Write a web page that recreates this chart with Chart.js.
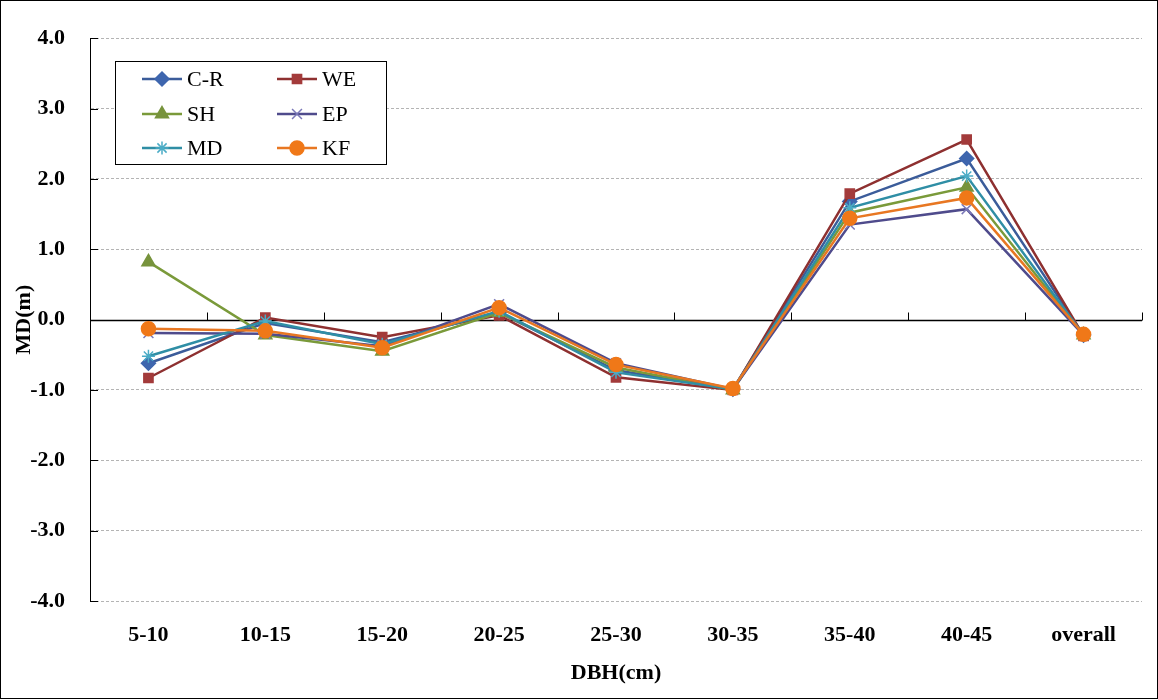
<!DOCTYPE html>
<html>
<head>
<meta charset="utf-8">
<script src="https://cdn.jsdelivr.net/npm/chart.js@4.4.1/dist/chart.umd.min.js"></script>
<style>
  html, body { margin: 0; padding: 0; background: #fff; }
  #wrap { width: 1158px; height: 700px; position: relative; }
</style>
</head>
<body>
<div id="wrap"><canvas id="chart" width="1158" height="700"></canvas></div>
<script>
const categories = ['5-10', '10-15', '15-20', '20-25', '25-30', '30-35', '35-40', '40-45', 'overall'];
const seriesNames = ['C-R', 'WE', 'SH', 'EP', 'MD', 'KF'];
const crValues = [-0.62, -0.05, -0.32, 0.10, -0.72, -0.99, 1.68, 2.29, -0.22];
const weValues = [-0.83, 0.03, -0.25, 0.06, -0.82, -1.00, 1.79, 2.56, -0.23];
const shValues = [0.82, -0.22, -0.45, 0.10, -0.68, -1.00, 1.52, 1.88, -0.22];
const epValues = [-0.19, -0.20, -0.38, 0.22, -0.62, -0.99, 1.35, 1.57, -0.22];
const mdValues = [-0.52, -0.02, -0.35, 0.12, -0.75, -0.99, 1.59, 2.04, -0.22];
const kfValues = [-0.13, -0.16, -0.40, 0.17, -0.64, -0.98, 1.44, 1.73, -0.21];

const FONT = "'Liberation Serif', 'Times New Roman', serif";

const styles = [
  { line: '#3B5C9A', fill: '#3E66AE', point: 'rectRot', r: 7 },
  { line: '#8E3030', fill: '#A33B3B', point: 'rect', r: 6.5 },
  { line: '#7A9A3A', fill: '#77933C', point: 'triangle', r: 7.5 },
  { line: '#4F4B8C', fill: '#7A78B8', point: 'crossRot', r: 7 },
  { line: '#2F8EA5', fill: '#4BACC6', point: 'star', r: 6.5 },
  { line: '#E87722', fill: '#F07818', point: 'circle', r: 7 }
];
const allValues = [crValues, weValues, shValues, epValues, mdValues, kfValues];

const datasets = seriesNames.map((name, i) => ({
  label: name,
  data: allValues[i],
  borderColor: styles[i].line,
  backgroundColor: styles[i].fill,
  pointBorderColor: styles[i].fill,
  pointBackgroundColor: styles[i].fill,
  pointStyle: styles[i].point,
  pointRadius: styles[i].r,
  pointBorderWidth: 1.5,
  borderWidth: 2.5,
  tension: 0,
  order: seriesNames.length - i
}));

// zero axis, inner ticks, legend box and frame
const decor = {
  id: 'decor',
  beforeDraw(chart) {
    const ctx = chart.ctx;
    ctx.save();
    ctx.fillStyle = '#fff';
    ctx.fillRect(0, 0, chart.width, chart.height);
    ctx.restore();
  },
  beforeDatasetsDraw(chart) {
    const { ctx, chartArea, scales } = chart;
    const y0 = Math.round(scales.y.getPixelForValue(0)) + 0.5;
    ctx.save();
    ctx.strokeStyle = '#000';
    ctx.lineWidth = 1.5;
    ctx.beginPath();
    ctx.moveTo(chartArea.left, y0);
    ctx.lineTo(chartArea.right, y0);
    ctx.stroke();
    ctx.lineWidth = 1;
    const n = categories.length;
    const step = (chartArea.right - chartArea.left) / n;
    for (let i = 1; i <= n; i++) {
      const x = Math.round(chartArea.left + step * i) + 0.5;
      ctx.beginPath();
      ctx.moveTo(x, y0);
      ctx.lineTo(x, y0 - 8);
      ctx.stroke();
    }
    scales.y.ticks.forEach(t => {
      const yy = Math.round(scales.y.getPixelForValue(t.value)) + 0.5;
      ctx.beginPath();
      ctx.moveTo(chartArea.left, yy);
      ctx.lineTo(chartArea.left + 8, yy);
      ctx.stroke();
    });
    ctx.restore();
  },
  afterDraw(chart) {
    const ctx = chart.ctx;
    ctx.save();
    // legend
    const bx = 115.5, by = 61.5, bw = 271, bh = 103;
    ctx.fillStyle = '#fff';
    ctx.fillRect(bx, by, bw, bh);
    ctx.strokeStyle = '#000';
    ctx.lineWidth = 1;
    ctx.strokeRect(bx, by, bw, bh);
    const cols = [142, 277];
    const rows = [79, 114, 148];
    ctx.font = '22px ' + FONT;
    ctx.textBaseline = 'middle';
    seriesNames.forEach((name, i) => {
      const x = cols[i % 2];
      const y = rows[Math.floor(i / 2)];
      const s = styles[i];
      ctx.strokeStyle = s.line;
      ctx.lineWidth = 2.5;
      ctx.beginPath();
      ctx.moveTo(x, y);
      ctx.lineTo(x + 40, y);
      ctx.stroke();
      ctx.fillStyle = s.fill;
      ctx.strokeStyle = s.fill;
      ctx.lineWidth = 1.5;
      Chart.helpers.drawPoint(ctx, { pointStyle: s.point, radius: s.r, borderWidth: 1.5, rotation: 0 }, x + 20, y);
      ctx.fillStyle = '#000';
      ctx.fillText(name, x + 45, y + 1);
    });
    // outer frame
    ctx.strokeStyle = '#000';
    ctx.lineWidth = 1;
    ctx.strokeRect(0.5, 0.5, chart.width - 1, chart.height - 2);
    ctx.restore();
  }
};

new Chart(document.getElementById('chart'), {
  type: 'line',
  data: { labels: categories, datasets: datasets },
  options: {
    responsive: false,
    animation: false,
    layout: { padding: { left: 0, top: 37, right: 16, bottom: 0 } },
    plugins: {
      legend: { display: false },
      tooltip: { enabled: false }
    },
    scales: {
      x: {
        offset: true,
        grid: { display: false, offset: true },
        border: { display: false },
        ticks: { color: '#000', padding: 13, font: { family: FONT, size: 22, weight: 'bold' }, maxRotation: 0 },
        title: { display: true, text: 'DBH(cm)', color: '#000', font: { family: FONT, size: 22, weight: 'bold' }, padding: { top: 0, bottom: 13 } },
        afterFit(scale) { scale.height = 99; }
      },
      y: {
        min: -4,
        max: 4,
        grid: {
          drawTicks: false,
          color: ctx => ctx.tick && ctx.tick.value === 0 ? 'rgba(0,0,0,0)' : '#B4B4B4',
          lineWidth: 1
        },
        border: { display: true, color: '#000', width: 1, dash: [3, 2] },
        ticks: {
          stepSize: 1,
          color: '#000',
          padding: 25,
          font: { family: FONT, size: 22, weight: 'bold' },
          callback: v => Number(v).toFixed(1)
        },
        title: { display: true, text: 'MD(m)', color: '#000', font: { family: FONT, size: 22, weight: 'bold' }, padding: { top: 11, bottom: 0 } },
        afterFit(scale) { scale.width = 90; }
      }
    }
  },
  plugins: [decor]
});
</script>
</body>
</html>
